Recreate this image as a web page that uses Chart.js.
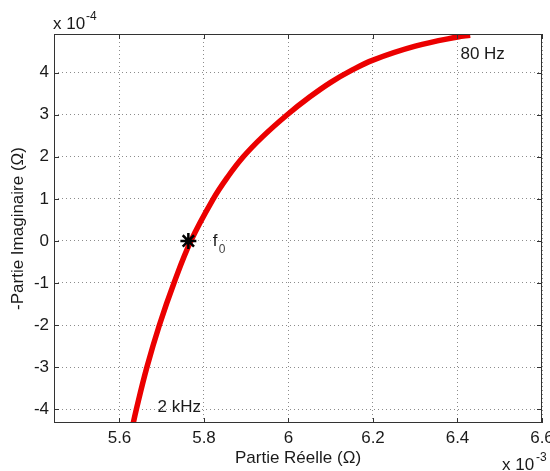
<!DOCTYPE html>
<html>
<head>
<meta charset="utf-8">
<script src="https://cdn.jsdelivr.net/npm/chart.js@4"></script>
<style>
  html, body { margin: 0; padding: 0; background: #fff; overflow: hidden; }
  canvas { display: block; }
</style>
</head>
<body>
<canvas id="nyquist" width="560" height="471"></canvas>
<script>
// Partie réelle (x 10^-3 Ohm) and -partie imaginaire (x 10^-4 Ohm)
const reelle = [5.629, 5.640, 5.665, 5.6945, 5.729, 5.769, 5.822, 5.856, 5.893, 5.939, 5.997, 6.05, 6.10, 6.15, 6.20, 6.30, 6.40, 6.43];
const imaginaire = [-4.5, -4, -3, -2, -1, 0, 1, 1.52, 2, 2.48, 3, 3.42, 3.77, 4.06, 4.3, 4.63, 4.85, 4.89];

// f0 marker
const f0Reel = [5.763];
const f0Imag = [0];

const xTicks = [5.6, 5.8, 6.0, 6.2, 6.4, 6.6];
const yTicks = [-4, -3, -2, -1, 0, 1, 2, 3, 4];

// text labels placed in data coordinates
const notes = [
  { text: "80 Hz", x: 6.407, y: 4.44 },
  { text: "2 kHz", x: 5.69, y: -3.96 }
];

const FONT = "Liberation Sans, Arial, sans-serif";
const INK = "#1a1a1a";
const SIZE = 17;

const curve = reelle.map((v, i) => ({ x: v, y: imaginaire[i] }));
const marker = f0Reel.map((v, i) => ({ x: v, y: f0Imag[i] }));

// box, inward ticks and text annotations, MATLAB-like
const matlabFrame = {
  id: "matlabFrame",
  afterDraw(chart) {
    const { ctx, chartArea: a, scales: { x, y } } = chart;
    ctx.save();
    ctx.strokeStyle = "#333";
    ctx.lineWidth = 1;
    ctx.strokeRect(a.left + 0.5, a.top + 0.5, a.right - a.left - 1, a.bottom - a.top - 1);
    ctx.beginPath();
    xTicks.forEach(t => {
      const px = Math.round(x.getPixelForValue(t)) + 0.5;
      ctx.moveTo(px, a.bottom); ctx.lineTo(px, a.bottom - 5);
      ctx.moveTo(px, a.top); ctx.lineTo(px, a.top + 5);
    });
    yTicks.forEach(t => {
      const py = Math.round(y.getPixelForValue(t)) + 0.5;
      ctx.moveTo(a.left, py); ctx.lineTo(a.left + 5, py);
      ctx.moveTo(a.right, py); ctx.lineTo(a.right - 5, py);
    });
    ctx.stroke();

    ctx.fillStyle = INK;
    ctx.font = SIZE + "px " + FONT;
    ctx.textBaseline = "middle";
    ctx.textAlign = "left";
    notes.forEach(n => {
      ctx.fillText(n.text, x.getPixelForValue(n.x), y.getPixelForValue(n.y));
    });

    // f0 label
    const fx = x.getPixelForValue(5.821), fy = y.getPixelForValue(0);
    ctx.fillText("f", fx, fy);
    ctx.font = "12px " + FONT;
    ctx.fillStyle = "#444";
    ctx.fillText("0", fx + 6, fy + 9);

    // exponent labels
    ctx.fillStyle = INK;
    ctx.textBaseline = "alphabetic";
    ctx.font = SIZE + "px " + FONT;
    ctx.fillText("x 10", a.left - 1, a.top - 5);
    ctx.fillText("x 10", 502, 470);
    ctx.font = "12px " + FONT;
    ctx.fillText("-4", a.left + 32, a.top - 14);
    ctx.fillText("-3", 536, 461);
    ctx.restore();
  }
};

new Chart(document.getElementById("nyquist"), {
  type: "scatter",
  data: {
    datasets: [
      {
        label: "f0",
        data: marker,
        pointStyle: "star",
        pointRadius: 8,
        pointBorderWidth: 2.5,
        pointBorderColor: "#000",
        pointBackgroundColor: "#000",
        showLine: false
      },
      {
        label: "Z",
        data: curve,
        showLine: true,
        borderColor: "rgb(235, 0, 0)",
        borderWidth: 5.5,
        pointRadius: 0,
        tension: 0.4,
        borderCapStyle: "butt"
      }
    ]
  },
  options: {
    responsive: false,
    animation: false,
    events: [],
    layout: { padding: { left: 0, top: 34, right: 18, bottom: 0 } },
    plugins: { legend: { display: false }, tooltip: { enabled: false } },
    scales: {
      x: {
        type: "linear",
        min: 5.445,
        max: 6.6,
        afterFit: s => { s.height = 48; },
        afterBuildTicks: s => { s.ticks = xTicks.map(v => ({ value: v })); },
        ticks: {
          includeBounds: false,
          padding: 5,
          color: INK,
          font: { family: FONT, size: SIZE },
          maxRotation: 0,
          callback: v => (Math.round(v * 10) / 10).toString()
        },
        grid: { color: "rgba(0,0,0,0.45)", drawTicks: false, lineWidth: 1 },
        border: { display: false, dash: [1, 3] },
        title: {
          display: true,
          text: "Partie Réelle (Ω)",
          color: INK,
          font: { family: FONT, size: SIZE },
          padding: { top: 0, bottom: 2 }
        }
      },
      y: {
        type: "linear",
        min: -4.33,
        max: 4.92,
        afterFit: s => { s.width = 54; },
        afterBuildTicks: s => { s.ticks = yTicks.map(v => ({ value: v })); },
        ticks: {
          includeBounds: false,
          padding: 5,
          color: INK,
          font: { family: FONT, size: SIZE },
          callback: v => v.toString()
        },
        grid: { color: "rgba(0,0,0,0.45)", drawTicks: false, lineWidth: 1 },
        border: { display: false, dash: [1, 3] },
        title: {
          display: true,
          text: "-Partie Imaginaire (Ω)",
          color: INK,
          font: { family: FONT, size: SIZE },
          padding: { top: 8, bottom: 0 }
        }
      }
    }
  },
  plugins: [matlabFrame]
});
</script>
</body>
</html>
